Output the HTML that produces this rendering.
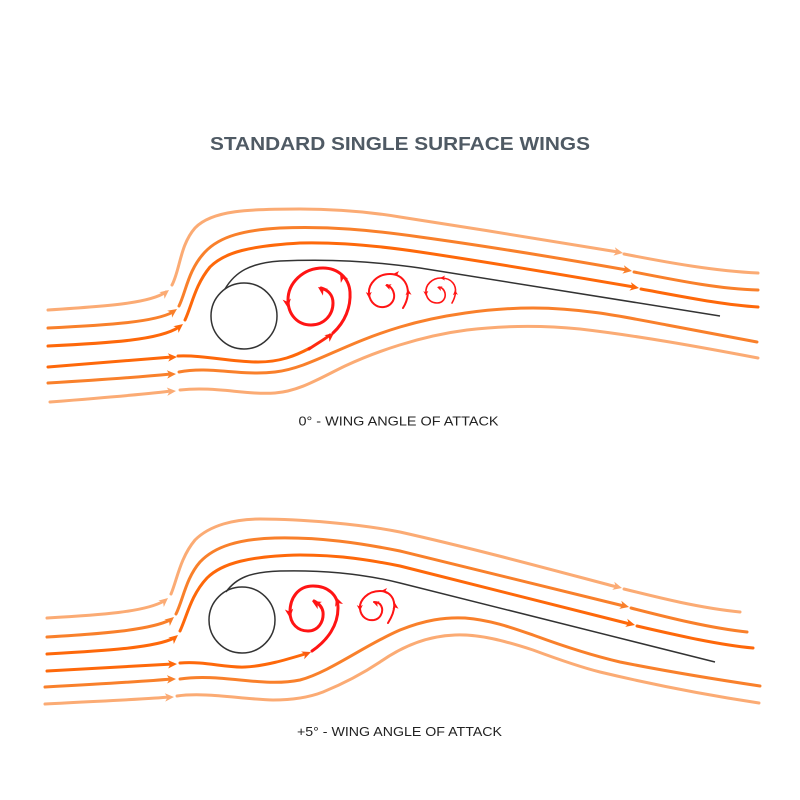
<!DOCTYPE html>
<html><head><meta charset="utf-8"><style>
html,body{margin:0;padding:0;background:#fff;}
svg{display:block;}
</style></head><body>
<svg width="800" height="800" viewBox="0 0 800 800" xmlns="http://www.w3.org/2000/svg">
<defs>
<path id="ah" d="M0,0 L-9,-4.2 L-6.5,0 L-9,4.2 Z"/>
<path id="ahm" d="M0,0 L-6,-3 L-4.5,0 L-6,3 Z"/>
<path id="ahs" d="M0,0 L-5,-2.5 L-3.8,0 L-5,2.5 Z"/>
</defs>
<rect width="800" height="800" fill="#fff"/>

<text x="400" y="150" text-anchor="middle" font-family="Liberation Sans, sans-serif" font-weight="bold" font-size="18" fill="#4f5a64" textLength="380" lengthAdjust="spacingAndGlyphs">STANDARD SINGLE SURFACE WINGS</text>

<!-- ============ TOP DIAGRAM ============ -->
<g fill="none" stroke-linecap="round" stroke-width="3">
  <!-- A light -->
  <g stroke="#fbab74">
    <path d="M48,310 C110,306 150,303 166,292"/>
    <path d="M172,285 C180,270 180,245 195,228 C212,210 250,209 300,209 C340,209 370,212 400,217 C470,228 560,242 618,252"/>
    <path d="M624,254 C670,263 715,271 758,273"/>
  </g>
  <!-- B medium -->
  <g stroke="#f9802b">
    <path d="M48,328 C110,325 155,322 173,312"/>
    <path d="M179,306 C186,292 188,270 205,252 C220,236 245,230 280,228 C330,226 370,230 420,237 C500,248 570,260 627,270"/>
    <path d="M634,272 C680,281 720,289 758,290"/>
  </g>
  <!-- C dark -->
  <g stroke="#fe680a">
    <path d="M48,346 C110,343 160,340 179,327"/>
    <path d="M185,320 C192,305 195,285 210,267 C225,252 250,246 300,243 C340,242 380,246 420,252 C500,264 570,276 634,287"/>
    <path d="M641,289 C690,298 725,305 758,307"/>
  </g>
  <!-- D dark -->
  <g stroke="#fe680a">
    <path d="M48,367 C100,363 150,359 172,357"/>
    <path d="M178,356 C205,355 230,362 258,362 C280,362 295,356 310,348"/>
  </g>
  <path d="M309,349 C318,343 325,339 330,335" stroke="#ff2a10"/>
  <!-- E medium -->
  <g stroke="#f9802b">
    <path d="M48,383 C100,380 150,376 171,374"/>
    <path d="M179,372 C210,366 240,376 275,372 C310,368 340,345 400,327 C440,315 490,308 533,308 C580,308 620,316 667,325 C700,331 730,337 757,342"/>
  </g>
  <!-- F light -->
  <g stroke="#fbab74">
    <path d="M50,402 C100,398 150,394 171,391"/>
    <path d="M180,390 C215,386 245,395 275,393 C300,391 320,378 345,366 C375,352 420,336 467,330 C500,326 540,325 580,329 C640,336 700,347 758,358"/>
  </g>
</g>
<!-- top arrows -->
<use href="#ah" fill="#fbab74" transform="translate(169,290) rotate(-38)"/>
<use href="#ah" fill="#f9802b" transform="translate(177,309) rotate(-35)"/>
<use href="#ah" fill="#fe680a" transform="translate(183,324) rotate(-38)"/>
<use href="#ah" fill="#fe680a" transform="translate(177,357) rotate(-3)"/>
<use href="#ah" fill="#f9802b" transform="translate(176,374) rotate(-3)"/>
<use href="#ah" fill="#fbab74" transform="translate(176,391) rotate(-4)"/>
<use href="#ah" fill="#fbab74" transform="translate(623,253) rotate(10)"/>
<use href="#ah" fill="#f9802b" transform="translate(632,271) rotate(10)"/>
<use href="#ah" fill="#fe680a" transform="translate(639,288) rotate(10)"/>
<use href="#ah" fill="#ff2010" transform="translate(334,333) rotate(-38)"/>

<!-- wing top -->
<circle cx="244" cy="316" r="33" fill="none" stroke="#333" stroke-width="1.5"/>
<path d="M225,289 C235,272 250,263 280,261 C330,259 370,261 420,268 L720,316" fill="none" stroke="#333" stroke-width="1.5"/>

<!-- vortices top -->
<g fill="none" stroke="#ff1414" stroke-linecap="round">
  <path stroke-width="3" d="M333,333 C345,322 351,307 350,292 C349,278 338,268 323,268 C303,268 288,283 288,300 C288,315 298,325 311,325 C324,325 333,315 333,303 C333,295 328,290 321,288"/>
  <path stroke-width="2" d="M403,308 C408,300 410,290 405,282 C401,276 395,274 390,274 C377,274 368,284 369,294 C370,303 377,308 384,307 C391,306 395,300 394,294 C393,289 390,286 387,285"/>
  <path stroke-width="1.6" d="M452,303 C456,296 457,288 453,283 C450,279 445,278 441,278 C432,278 425,285 426,293 C427,300 432,303 437,303 C443,303 446,298 445,293 C444,289 441,287 439,287"/>
</g>
<g fill="#ff1414">
  <use href="#ah" transform="translate(340,273) rotate(-120)"/>
  <use href="#ah" transform="translate(288,308) rotate(82)"/>
  <use href="#ah" transform="translate(318,287) rotate(-145)"/>
  <use href="#ahm" transform="translate(408,289) rotate(-95)"/>
  <use href="#ahm" transform="translate(393,274) rotate(180)"/>
  <use href="#ahm" transform="translate(369,298) rotate(88)"/>
  <use href="#ahm" transform="translate(385,285) rotate(-160)"/>
  <use href="#ahs" transform="translate(455,290) rotate(-95)"/>
  <use href="#ahs" transform="translate(440,278) rotate(180)"/>
  <use href="#ahs" transform="translate(426,296) rotate(88)"/>
  <use href="#ahs" transform="translate(437,287) rotate(-160)"/>
</g>

<text x="398.5" y="425.5" text-anchor="middle" font-family="Liberation Sans, sans-serif" font-size="12.5" fill="#222" textLength="200" lengthAdjust="spacingAndGlyphs">0° - WING ANGLE OF ATTACK</text>

<!-- ============ BOTTOM DIAGRAM ============ -->
<g fill="none" stroke-linecap="round" stroke-width="3">
  <g stroke="#fbab74">
    <path d="M47,618 C100,615 145,612 164,601"/>
    <path d="M171,594 C177,580 180,558 195,540 C210,525 235,519 260,519 C300,519 360,524 400,532 C480,550 560,572 617,587"/>
    <path d="M624,589 C660,598 700,608 740,612"/>
  </g>
  <g stroke="#f9802b">
    <path d="M47,637 C100,634 150,630 170,620"/>
    <path d="M176,614 C183,600 186,578 200,562 C215,546 240,539 275,538 C320,537 360,543 400,551 C480,570 560,590 624,606"/>
    <path d="M631,608 C670,618 710,628 747,632"/>
  </g>
  <g stroke="#fe680a">
    <path d="M47,654 C100,651 155,648 174,638"/>
    <path d="M180,631 C187,616 191,595 207,578 C222,563 250,556 300,555 C340,555 370,560 400,566 C480,586 560,606 630,624"/>
    <path d="M637,626 C680,636 720,645 753,648"/>
  </g>
  <g stroke="#fe680a">
    <path d="M47,671 C100,668 150,665 173,664"/>
    <path d="M180,663 C205,661 225,668 245,667 C265,666 285,660 305,654"/>
  </g>
  <g stroke="#f9802b">
    <path d="M45,687 C100,684 150,681 171,679"/>
    <path d="M180,679 C200,676 220,678 240,680 C260,682 280,684 300,680 C330,672 365,645 400,630 C425,620 445,617 465,618 C490,620 510,627 533,635 C560,645 590,655 620,662 C670,672 720,680 760,686"/>
  </g>
  <g stroke="#fbab74">
    <path d="M45,704 C100,701 150,699 169,697"/>
    <path d="M177,696 C205,692 240,699 273,700 C295,700 310,697 323,692 C345,683 365,672 380,662 C400,648 425,636 455,635 C480,634 505,641 533,650 C560,660 580,667 600,672 C650,684 700,694 759,703"/>
  </g>
</g>
<use href="#ah" fill="#fbab74" transform="translate(168,598) rotate(-40)"/>
<use href="#ah" fill="#f9802b" transform="translate(174,617) rotate(-40)"/>
<use href="#ah" fill="#fe680a" transform="translate(178,635) rotate(-40)"/>
<use href="#ah" fill="#fe680a" transform="translate(177,664) rotate(-2)"/>
<use href="#ah" fill="#f9802b" transform="translate(176,679) rotate(-2)"/>
<use href="#ah" fill="#fbab74" transform="translate(174,697) rotate(-3)"/>
<use href="#ah" fill="#fbab74" transform="translate(622,588) rotate(14)"/>
<use href="#ah" fill="#f9802b" transform="translate(629,607) rotate(14)"/>
<use href="#ah" fill="#fe680a" transform="translate(635,625) rotate(14)"/>
<use href="#ah" fill="#fa5a10" transform="translate(311,652) rotate(-22)"/>

<!-- wing bottom -->
<circle cx="242" cy="620" r="33" fill="none" stroke="#333" stroke-width="1.5"/>
<path d="M226,592 C236,578 250,572 280,571 C320,570 360,573 400,583 L715,662" fill="none" stroke="#333" stroke-width="1.5"/>

<!-- vortices bottom -->
<g fill="none" stroke="#ff1414" stroke-linecap="round">
  <path stroke-width="3" d="M312,651 C328,640 338,625 338,608 C338,595 328,586 313,586 C298,586 290,598 290,612 C290,624 298,631 308,631 C318,631 324,622 323,612 C322,606 318,603 314,601"/>
  <path stroke-width="2" d="M388,623 C393,615 396,606 393,599 C390,593 385,591 380,591 C368,591 359,600 360,609 C361,617 367,621 374,620 C380,619 383,613 382,608 C381,604 378,602 374,602"/>
</g>
<g fill="#ff1414">
  <use href="#ah" transform="translate(336,597) rotate(-110)"/>
  <use href="#ah" transform="translate(290,618) rotate(84)"/>
  <use href="#ah" transform="translate(312,601) rotate(-150)"/>
  <use href="#ahm" transform="translate(395,603) rotate(-95)"/>
  <use href="#ahm" transform="translate(381,591) rotate(180)"/>
  <use href="#ahm" transform="translate(360,611) rotate(88)"/>
  <use href="#ahm" transform="translate(373,602) rotate(-160)"/>
</g>

<text x="399.5" y="736" text-anchor="middle" font-family="Liberation Sans, sans-serif" font-size="12.5" fill="#222" textLength="205" lengthAdjust="spacingAndGlyphs">+5° - WING ANGLE OF ATTACK</text>
</svg>
</body></html>
